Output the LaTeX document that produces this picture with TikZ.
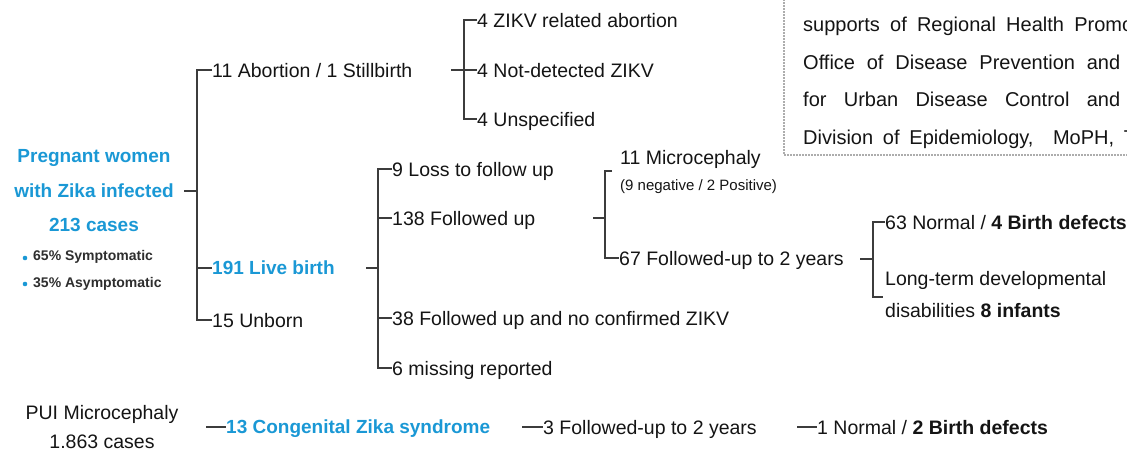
\documentclass[tikz,border=0pt]{standalone}
\usepackage{fontspec}
\setmainfont{Liberation Sans}
\definecolor{zblue}{HTML}{1A98D5}
\definecolor{txt}{HTML}{141414}
\definecolor{bulc}{HTML}{2E2E2E}
\definecolor{linec}{HTML}{3C3C3C}
\definecolor{boxc}{HTML}{ADADAD}
\begin{document}
\begin{tikzpicture}[x=1pt,y=-1pt,
  conn/.style={draw=linec, line width=1.3pt},
  lbl/.style={anchor=west, inner sep=0pt, text=txt, font=\fontsize{19.5}{23}\selectfont, text height=14pt, text depth=0pt},
  blu/.style={lbl, text=zblue, font=\fontsize{19}{23}\selectfont\bfseries, text height=13.6pt},
  ttl/.style={anchor=center, inner sep=0pt, text=zblue, font=\fontsize{19}{23}\selectfont\bfseries, text height=13.6pt, text depth=0pt},
  bul/.style={lbl, font=\fontsize{14}{16}\selectfont\bfseries, text height=10pt, text=bulc},
  sml/.style={lbl, font=\fontsize{15}{17}\selectfont, text height=10.7pt},
  boxt/.style={lbl, font=\fontsize{20}{24}\selectfont, text height=14.3pt},
  boxline/.style={draw=boxc, line width=1.5pt, dash pattern=on 1.5pt off 1.5pt},
  bulletdot/.style={circle, fill=zblue, inner sep=0pt, minimum size=4.6pt},
  ctr/.style={lbl, anchor=center}
]
\useasboundingbox (0,0) rectangle (1127,451);
\clip (0,0) rectangle (1127,451);

% info box (top right, clipped)
\draw[boxline] (784,-10) rectangle (1140,155);
\node[boxt] (bx1) at (803,24.5) {\makebox[330pt][s]{supports of Regional Health Promo}};
\node[boxt] (bx2) at (803,62) {\makebox[317pt][s]{Office of Disease Prevention and}};
\node[boxt] (bx3) at (803,99.5) {\makebox[317pt][s]{for Urban Disease Control and}};
\node[boxt] (bx4) at (803,137) {\makebox[333pt][s]{Division of Epidemiology,\ \ MoPH, T}};

% root
\node[ttl] (pw1) at (94,156) {Pregnant women};
\node[ttl] (pw2) at (94,191) {with Zika infected};
\node[ttl] (pw3) at (94,225) {213 cases};
\node[bulletdot] (d1) at (25,258) {};
\node[bul] (s1) at (33,255) {65\% Symptomatic};
\node[bulletdot] (d2) at (25,284) {};
\node[bul] (s2) at (33,282) {35\% Asymptomatic};

\node[lbl] (ab) at (212,70) {11 Abortion / 1 Stillbirth};
\node[blu] (lb) at (212,268) {191 Live birth};
\node[lbl] (ub) at (212,320) {15 Unborn};
\coordinate (rt) at (184,191);
\coordinate (rb) at (197,0);
\draw[conn] (rt) -- (rt -| rb);
\draw[conn] (ab.west) -- (ab.west -| rb) -- (ub.west -| rb) -- (ub.west);
\draw[conn] (lb.west -| rb) -- (lb.west);

% abortion branch
\node[lbl] (z1) at (477,20) {4 ZIKV related abortion};
\node[lbl] (z2) at (477,70) {4 Not-detected ZIKV};
\node[lbl] (z3) at (477,119) {4 Unspecified};
\coordinate (ap) at (451,70);
\coordinate (abus) at (464,0);
\draw[conn] (ap) -- (ap -| abus);
\draw[conn] (z1.west) -- (z1.west -| abus) -- (z3.west -| abus) -- (z3.west);
\draw[conn] (z2.west -| abus) -- (z2.west);

% live birth branch
\node[lbl] (l1) at (392,169) {9 Loss to follow up};
\node[lbl] (l2) at (392,218) {138 Followed up};
\node[lbl] (l3) at (392,318) {38 Followed up and no confirmed ZIKV};
\node[lbl] (l4) at (392,368) {6 missing reported};
\coordinate (lp) at (366,268);
\coordinate (lbus) at (378,0);
\draw[conn] (lp) -- (lp -| lbus);
\draw[conn] (l1.west) -- (l1.west -| lbus) -- (l4.west -| lbus) -- (l4.west);
\draw[conn] (l2.west -| lbus) -- (l2.west);
\draw[conn] (l3.west -| lbus) -- (l3.west);

% followed up branch
\node[lbl] (m1) at (620,157.5) {11 Microcephaly};
\node[sml] (m2) at (620,185) {(9 negative / 2 Positive)};
\node[lbl] (f67) at (619,258) {67 Followed-up to 2 years};
\coordinate (fp) at (593,218);
\coordinate (fbus) at (605,0);
\coordinate (mt) at (612,171);
\draw[conn] (fp) -- (fp -| fbus);
\draw[conn] (mt) -- (mt -| fbus) -- (f67.west -| fbus) -- (f67.west);

% 67 branch
\node[lbl] (n63) at (885,222) {63 Normal / \textbf{4 Birth defects}};
\node[lbl] (lt1) at (885,278) {Long-term developmental};
\node[lbl] (lt2) at (885,310) {disabilities \textbf{8 infants}};
\coordinate (gp) at (860,259);
\coordinate (gbus) at (873,0);
\coordinate (ltt) at (883,297);
\draw[conn] (gp) -- (gp -| gbus);
\draw[conn] (n63.west) -- (n63.west -| gbus) -- (ltt -| gbus) -- (ltt);

% bottom row
\node[ctr] (pui1) at (102,412) {PUI Microcephaly};
\node[ctr] (pui2) at (102,441) {1.863 cases};
\node[blu] (czs) at (226,427) {13 Congenital Zika syndrome};
\node[lbl] (f3) at (543,427) {3 Followed-up to 2 years};
\node[lbl] (n1) at (817,427) {1 Normal / \textbf{2 Birth defects}};
\coordinate (c0) at (206,427);
\coordinate (c1) at (522,427);
\coordinate (c2) at (797,427);
\draw[conn] (c0) -- (czs.west);
\draw[conn] (c1) -- (f3.west);
\draw[conn] (c2) -- (n1.west);
\end{tikzpicture}
\end{document}
